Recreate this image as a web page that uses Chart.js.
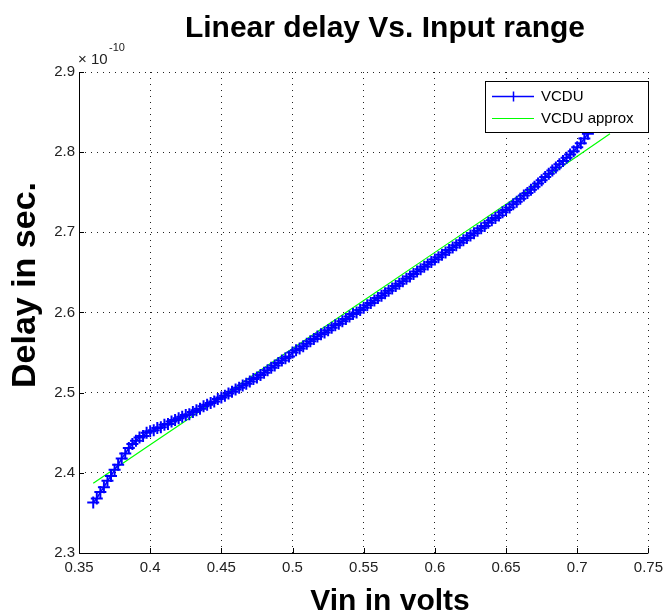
<!DOCTYPE html>
<html>
<head>
<meta charset="utf-8">
<script src="https://cdn.jsdelivr.net/npm/chart.js@4"></script>
<style>
  html, body { margin: 0; padding: 0; background: #fff; }
  #plot { display: block; }
</style>
</head>
<body>
<canvas id="plot" width="669" height="614"></canvas>
<script>
// measured VCDU delay (units of 1e-10 s) against Vin
const vinVolts = [
  0.36, 0.3625, 0.365, 0.3675, 0.37, 0.3725, 0.375, 0.3775, 0.38, 0.3825,
  0.385, 0.3875, 0.39, 0.3925, 0.395, 0.3975, 0.40, 0.4025, 0.405, 0.4075,
  0.41, 0.4125, 0.415, 0.4175, 0.42, 0.4225, 0.425, 0.4275, 0.43, 0.4325,
  0.435, 0.4375, 0.44, 0.4425, 0.445, 0.4475, 0.45, 0.4525, 0.455, 0.4575,
  0.46, 0.4625, 0.465, 0.4675, 0.47, 0.4725, 0.475, 0.4775, 0.48, 0.4825,
  0.485, 0.4875, 0.49, 0.4925, 0.495, 0.4975, 0.50, 0.5025, 0.505, 0.5075,
  0.51, 0.5125, 0.515, 0.5175, 0.52, 0.5225, 0.525, 0.5275, 0.53, 0.5325,
  0.535, 0.5375, 0.54, 0.5425, 0.545, 0.5475, 0.55, 0.5525, 0.555, 0.5575,
  0.56, 0.5625, 0.565, 0.5675, 0.57, 0.5725, 0.575, 0.5775, 0.58, 0.5825,
  0.585, 0.5875, 0.59, 0.5925, 0.595, 0.5975, 0.60, 0.6025, 0.605, 0.6075,
  0.61, 0.6125, 0.615, 0.6175, 0.62, 0.6225, 0.625, 0.6275, 0.63, 0.6325,
  0.635, 0.6375, 0.64, 0.6425, 0.645, 0.6475, 0.65, 0.6525, 0.655, 0.6575,
  0.66, 0.6625, 0.665, 0.6675, 0.67, 0.6725, 0.675, 0.6775, 0.68, 0.6825,
  0.685, 0.6875, 0.69, 0.6925, 0.695, 0.6975, 0.70, 0.7025, 0.705, 0.7075,
  0.71
];
const delayVcdu = [
  2.363, 2.368, 2.376, 2.382, 2.390, 2.396, 2.404, 2.410, 2.418, 2.424,
  2.431, 2.436, 2.440, 2.444, 2.446, 2.450, 2.452, 2.453, 2.456, 2.457,
  2.460, 2.461, 2.464, 2.466, 2.468, 2.470, 2.472, 2.473, 2.476, 2.478,
  2.480, 2.483, 2.485, 2.487, 2.489, 2.492, 2.494, 2.496, 2.499, 2.501,
  2.504, 2.506, 2.509, 2.511, 2.514, 2.517, 2.519, 2.522, 2.525, 2.528,
  2.531, 2.534, 2.537, 2.540, 2.543, 2.545, 2.550, 2.553, 2.555, 2.558,
  2.561, 2.564, 2.567, 2.570, 2.573, 2.575, 2.578, 2.581, 2.584, 2.586,
  2.589, 2.592, 2.595, 2.598, 2.600, 2.603, 2.606, 2.609, 2.612, 2.615,
  2.618, 2.621, 2.624, 2.627, 2.630, 2.633, 2.636, 2.639, 2.642, 2.645,
  2.648, 2.651, 2.654, 2.657, 2.660, 2.663, 2.666, 2.669, 2.672, 2.675,
  2.678, 2.681, 2.684, 2.687, 2.690, 2.693, 2.696, 2.699, 2.702, 2.705,
  2.708, 2.712, 2.715, 2.718, 2.721, 2.725, 2.728, 2.731, 2.735, 2.738,
  2.742, 2.746, 2.749, 2.753, 2.757, 2.761, 2.765, 2.769, 2.773, 2.777,
  2.781, 2.785, 2.789, 2.793, 2.797, 2.801, 2.806, 2.811, 2.817, 2.823,
  2.830
];

// linear approximation
const vinApprox = [0.36, 0.40, 0.45, 0.50, 0.55, 0.60, 0.65, 0.70, 0.723];
const delayApprox = [2.387, 2.435, 2.495, 2.555, 2.615, 2.675, 2.735, 2.795, 2.823];

const xTickValues = [0.35, 0.4, 0.45, 0.5, 0.55, 0.6, 0.65, 0.7, 0.75];
const yTickValues = [2.3, 2.4, 2.5, 2.6, 2.7, 2.8, 2.9];
const yExponent = '-10';

const seriesNames = ['VCDU', 'VCDU approx'];
const titleText = 'Linear delay Vs. Input range';
const xTitle = 'Vin in volts';
const yTitle = 'Delay in sec.';

const toPoints = (xs, ys) => xs.map((x, i) => ({ x: x, y: ys[i] }));
const fmt = v => String(Number(v.toFixed(2)));
const FONT = '"Liberation Sans", Arial, sans-serif';

// axes lines, inner ticks, titles, exponent and legend, MATLAB style
const matlabDecor = {
  id: 'matlabDecor',
  afterDatasetsDraw(chart) {
    const ctx = chart.ctx;
    const a = chart.chartArea;
    const xs = chart.scales.x, ys = chart.scales.y;
    ctx.save();
    ctx.strokeStyle = '#000';
    ctx.lineWidth = 1;
    ctx.beginPath();
    ctx.moveTo(a.left + 0.5, a.top);
    ctx.lineTo(a.left + 0.5, a.bottom + 0.5);
    ctx.lineTo(a.right, a.bottom + 0.5);
    xTickValues.forEach(v => {
      const px = Math.round(xs.getPixelForValue(v)) + 0.5;
      ctx.moveTo(px, a.bottom);
      ctx.lineTo(px, a.bottom - 5);
    });
    yTickValues.forEach(v => {
      const py = Math.round(ys.getPixelForValue(v)) + 0.5;
      ctx.moveTo(a.left, py);
      ctx.lineTo(a.left + 5, py);
    });
    ctx.stroke();

    // legend box inside the axes
    const lx = 485.5, ly = 81.5, lw = 163, lh = 51;
    ctx.fillStyle = '#fff';
    ctx.fillRect(lx, ly, lw, lh);
    ctx.strokeRect(lx, ly, lw, lh);
    const ds = chart.data.datasets;
    const rows = [96, 118];
    ds.forEach((d, i) => {
      const y = rows[i] + 0.5;
      ctx.strokeStyle = d.borderColor;
      ctx.lineWidth = d.pointRadius > 0 ? 1.5 : 1;
      ctx.beginPath();
      ctx.moveTo(492, y);
      ctx.lineTo(534, y);
      if (d.pointRadius > 0) {
        ctx.moveTo(513.5, y - 5);
        ctx.lineTo(513.5, y + 5);
      }
      ctx.stroke();
      ctx.fillStyle = '#000';
      ctx.font = '15px ' + FONT;
      ctx.textAlign = 'left';
      ctx.textBaseline = 'middle';
      ctx.fillText(d.label, 541, rows[i] + 1);
    });
    ctx.restore();
  },
  afterDraw(chart) {
    const ctx = chart.ctx;
    ctx.save();
    ctx.fillStyle = '#000';
    ctx.textAlign = 'center';
    ctx.textBaseline = 'alphabetic';
    ctx.font = 'bold 30px ' + FONT;
    ctx.fillText(titleText, 385, 37);
    ctx.fillText(xTitle, 390, 610);
    ctx.save();
    ctx.translate(35, 285);
    ctx.rotate(-Math.PI / 2);
    ctx.font = 'bold 34px ' + FONT;
    ctx.fillText(yTitle, 0, 0);
    ctx.restore();
    // exponent label above y axis
    ctx.fillStyle = '#222';
    ctx.textAlign = 'left';
    ctx.font = '15px ' + FONT;
    ctx.fillText('\u00d7 10', 78, 64);
    ctx.font = '11px ' + FONT;
    ctx.fillText(yExponent, 109, 51);
    ctx.restore();
  }
};

new Chart(document.getElementById('plot').getContext('2d'), {
  type: 'scatter',
  data: {
    datasets: [{
      label: seriesNames[0],
      data: toPoints(vinVolts, delayVcdu),
      showLine: true,
      borderColor: '#0000ff',
      backgroundColor: '#0000ff',
      borderWidth: 1.5,
      pointStyle: 'cross',
      pointRadius: 6,
      pointBorderWidth: 2,
      pointHoverRadius: 6
    }, {
      label: seriesNames[1],
      data: toPoints(vinApprox, delayApprox),
      showLine: true,
      borderColor: '#00ff00',
      backgroundColor: '#00ff00',
      borderWidth: 1.2,
      pointRadius: 0,
      pointHoverRadius: 0
    }]
  },
  options: {
    responsive: false,
    animation: false,
    events: [],
    layout: { padding: { left: 0, top: 72, right: 16, bottom: 0 } },
    plugins: {
      legend: { display: false },
      title: { display: false },
      tooltip: { enabled: false }
    },
    scales: {
      x: {
        type: 'linear',
        min: 0.35,
        max: 0.75,
        afterFit(scale) { scale.height = 61; },
        afterBuildTicks(scale) { scale.ticks = xTickValues.map(v => ({ value: v })); },
        grid: { color: '#222', lineWidth: 1, drawTicks: false },
        border: { display: false, dash: [1, 5] },
        ticks: {
          padding: 6,
          color: '#222',
          font: { family: FONT, size: 15 },
          maxRotation: 0,
          autoSkip: false,
          callback: v => fmt(v)
        }
      },
      y: {
        type: 'linear',
        min: 2.3,
        max: 2.9,
        afterFit(scale) { scale.width = 79; },
        afterBuildTicks(scale) { scale.ticks = yTickValues.map(v => ({ value: v })); },
        grid: { color: '#222', lineWidth: 1, drawTicks: false },
        border: { display: false, dash: [1, 5] },
        ticks: {
          padding: 4,
          color: '#222',
          font: { family: FONT, size: 15 },
          autoSkip: false,
          callback: v => v.toFixed(1)
        }
      }
    }
  },
  plugins: [matlabDecor]
});
</script>
</body>
</html>
